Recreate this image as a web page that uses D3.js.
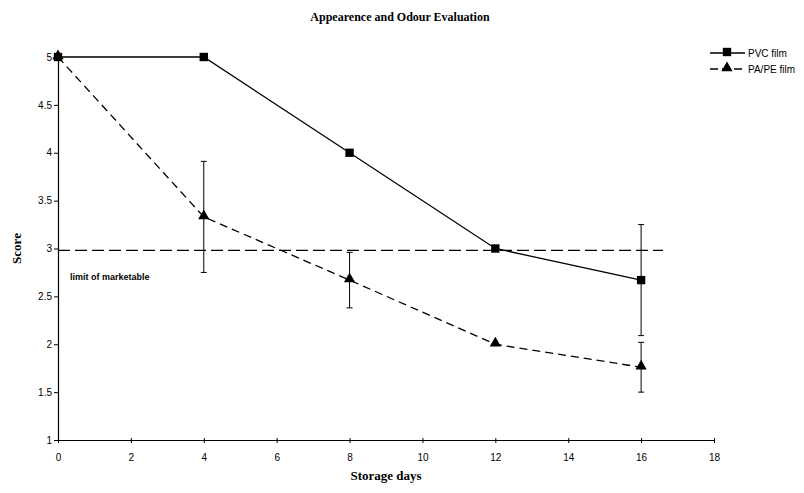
<!DOCTYPE html>
<meta charset="utf-8">
<style>
  body { margin: 0; background: #fff; }
  .tick text { font-family: Arial, "Liberation Sans", sans-serif; font-size: 10px; fill: #000; }
</style>
<svg id="chart" width="804" height="493"></svg>
<script src="https://d3js.org/d3.v7.min.js"></script>
<script>

// data
days = [0, 4, 8, 12, 16]
pvc = [5, 5, 4, 3, 2.67]
pvcErr = [0, 0, 0, 0, 0.58]
pape = [5, 3.33, 2.67, 2.0, 1.76]
papeErr = [0, 0.58, 0.29, 0, 0.26]
limitValue = 2.98
limitEnd = 16.6
xTicks = [0, 2, 4, 6, 8, 10, 12, 14, 16, 18]
yTicks = [1, 1.5, 2, 2.5, 3, 3.5, 4, 4.5, 5]

var svg = d3.select("#chart")
var x = d3.scaleLinear().domain([0, 18]).range([58, 714])
var y = d3.scaleLinear().domain([1, 5]).range([440, 57])

svg.append("text")
  .attr("x", 400).attr("y", 21)
  .attr("text-anchor", "middle")
  .style("font-family", "'Liberation Serif', 'Times New Roman', serif")
  .style("font-weight", "bold").style("font-size", "12px")
  .text("Appearence and Odour Evaluation")

// axes
svg.append("g")
  .attr("transform", "translate(0," + y(1) + ")")
  .call(d3.axisBottom(x).tickValues(xTicks).tickSize(5).tickSizeOuter(0).tickFormat(d3.format("d")))
  .call(g => g.selectAll(".tick line").attr("y1", -2).attr("y2", 3))
  .call(g => g.selectAll(".tick text").attr("dy", "1.3em"))

svg.append("g")
  .attr("transform", "translate(" + x(0) + ",0)")
  .call(d3.axisLeft(y).tickValues(yTicks).tickSize(4).tickSizeOuter(0).tickFormat(d => d))
  .call(g => g.selectAll(".tick text").attr("x", -6))

svg.selectAll(".domain").attr("stroke", "#000").attr("stroke-width", 1.2)

svg.append("text")
  .attr("transform", "translate(21," + y(3) + ") rotate(-90)")
  .attr("text-anchor", "middle")
  .style("font-family", "'Liberation Serif', 'Times New Roman', serif")
  .style("font-weight", "bold").style("font-size", "13px")
  .text("Score")

svg.append("text")
  .attr("x", x(9)).attr("y", 480)
  .attr("text-anchor", "middle")
  .style("font-family", "'Liberation Serif', 'Times New Roman', serif")
  .style("font-weight", "bold").style("font-size", "13px")
  .text("Storage days")

// limit line
svg.append("line")
  .attr("x1", x(0)).attr("x2", x(limitEnd))
  .attr("y1", y(limitValue)).attr("y2", y(limitValue))
  .attr("stroke", "#000").attr("stroke-width", 1.3)
  .attr("stroke-dasharray", "12,5")

svg.append("text")
  .attr("x", 70).attr("y", 280)
  .style("font-family", "Arial, 'Liberation Sans', sans-serif")
  .style("font-weight", "bold").style("font-size", "9px")
  .text("limit of marketable")

var line = d3.line().x((d, i) => x(days[i])).y(d => y(d))

function errBars(vals, errs) {
  var g = svg.append("g").attr("stroke", "#000").attr("stroke-width", 1)
  vals.forEach(function(v, i) {
    if (!errs[i]) return
    var cx = x(days[i])
    g.append("line").attr("x1", cx).attr("x2", cx).attr("y1", y(v - errs[i])).attr("y2", y(v + errs[i]))
    g.append("line").attr("x1", cx - 3).attr("x2", cx + 3).attr("y1", y(v - errs[i])).attr("y2", y(v - errs[i]))
    g.append("line").attr("x1", cx - 3).attr("x2", cx + 3).attr("y1", y(v + errs[i])).attr("y2", y(v + errs[i]))
  })
}

errBars(pvc, pvcErr)
errBars(pape, papeErr)

svg.append("path").datum(pape)
  .attr("d", line).attr("fill", "none")
  .attr("stroke", "#000").attr("stroke-width", 1.3)
  .attr("stroke-dasharray", "8,5")

svg.append("path").datum(pvc)
  .attr("d", line).attr("fill", "none")
  .attr("stroke", "#000").attr("stroke-width", 1.3)

var sq = d3.symbol().type(d3.symbolSquare).size(70)
var tri = d3.symbol().type(d3.symbolTriangle).size(55)

svg.append("g").selectAll("path")
  .data(pape).join("path")
  .attr("transform", (d, i) => "translate(" + x(days[i]) + "," + (y(d) - 1) + ")")
  .attr("d", tri).attr("fill", "#000")

svg.append("g").selectAll("path")
  .data(pvc).join("path")
  .attr("transform", (d, i) => "translate(" + x(days[i]) + "," + y(d) + ")")
  .attr("d", sq).attr("fill", "#000")

// legend
var legend = [
  {name: "PVC film", dash: null, sym: sq, y: 53},
  {name: "PA/PE film", dash: "8,4", sym: tri, y: 69}
]
var lg = svg.append("g").selectAll("g").data(legend).join("g")
lg.append("line")
  .attr("x1", 710).attr("x2", 745).attr("y1", d => d.y).attr("y2", d => d.y)
  .attr("stroke", "#000").attr("stroke-width", 1.3)
  .attr("stroke-dasharray", d => d.dash)
lg.append("path")
  .attr("transform", d => "translate(727," + (d.y - 1) + ")")
  .attr("d", d => d.sym()).attr("fill", "#000")
lg.append("text")
  .attr("x", 748).attr("y", d => d.y + 3.5)
  .style("font-family", "Arial, 'Liberation Sans', sans-serif")
  .style("font-size", "10px")
  .text(d => d.name)

</script>
